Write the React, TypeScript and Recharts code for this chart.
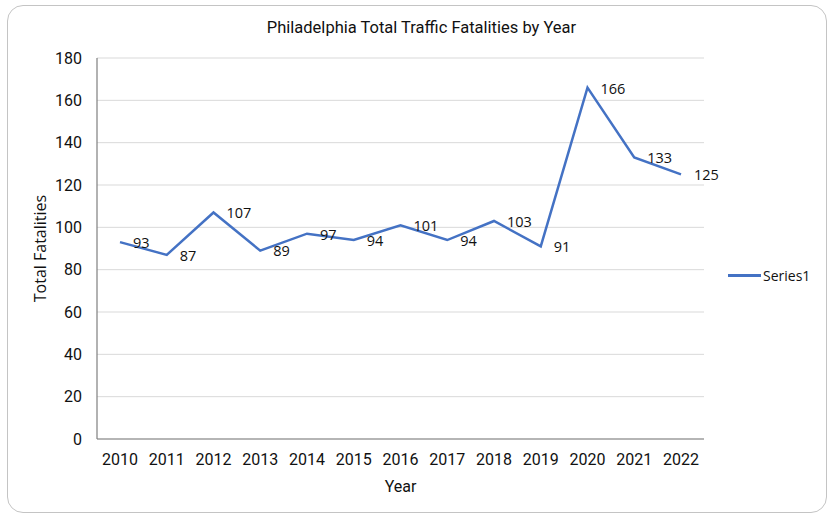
import React from "react";
import {
  LineChart,
  Line,
  XAxis,
  YAxis,
  CartesianGrid,
  Legend,
  LabelList,
} from "recharts";

const years = [
  "2010", "2011", "2012", "2013", "2014", "2015", "2016",
  "2017", "2018", "2019", "2020", "2021", "2022",
];
const fatalities = [93, 87, 107, 89, 97, 94, 101, 94, 103, 91, 166, 133, 125];
const yTicks = [0, 20, 40, 60, 80, 100, 120, 140, 160, 180];

const data = years.map((year, i) => ({ year, Series1: fatalities[i] }));

const BLUE = "#4472C4";

const PointLabel = (props: any) => {
  const { x, y, value } = props;
  return (
    <text
      x={x + 13}
      y={y + 2}
      fontSize={14.5}
      fontFamily="'Open Sans', sans-serif"
      fill="#111"
      dominantBaseline="middle"
      textAnchor="start"
    >
      {value}
    </text>
  );
};

const LegendBox = () => (
  <div
    style={{
      width: 119,
      boxSizing: "border-box",
      paddingLeft: 24,
      display: "flex",
      alignItems: "center",
      fontFamily: "'Open Sans', sans-serif",
      fontSize: 14,
      color: "#111",
    }}
  >
    <span
      style={{
        display: "inline-block",
        width: 33,
        height: 3,
        background: BLUE,
        marginRight: 2,
      }}
    />
    Series1
  </div>
);

export default function App() {
  return (
    <div
      style={{
        position: "absolute",
        left: 0,
        top: 0,
        width: 833,
        height: 514,
        background: "#fff",
      }}
    >
      <div
        style={{
          position: "absolute",
          left: 7,
          top: 5,
          width: 818,
          height: 506,
          border: "1px solid #c4c4c4",
          borderRadius: 16,
        }}
      />
      <div
        style={{
          position: "absolute",
          left: 5,
          top: 18,
          width: 833,
          textAlign: "center",
          fontFamily: "Roboto, sans-serif",
          fontSize: 16.5,
          color: "#111",
        }}
      >
        Philadelphia Total Traffic Fatalities by Year
      </div>
      <LineChart
        width={833}
        height={514}
        data={data}
        margin={{ top: 58, right: 10, bottom: 0, left: 0 }}
        style={{ position: "absolute", left: 0, top: 0 }}
      >
        <CartesianGrid vertical={false} stroke="#d9d9d9" strokeWidth={1} />
        <XAxis
          dataKey="year"
          height={75}
          padding={{ left: 23, right: 23 }}
          axisLine={{ stroke: "#7f7f7f", strokeWidth: 1.2 }}
          tickLine={false}
          tickMargin={9}
          tick={{ fill: "#111", fontSize: 16, fontFamily: "Roboto, sans-serif" }}
          interval={0}
          label={{
            value: "Year",
            position: "insideBottom",
            offset: 22,
            fill: "#111",
            fontSize: 16,
            fontFamily: "Roboto, sans-serif",
          }}
        />
        <YAxis
          width={97}
          domain={[0, 180]}
          ticks={yTicks}
          axisLine={{ stroke: "#7f7f7f", strokeWidth: 1.2 }}
          tickLine={false}
          tickMargin={9}
          tick={{ fill: "#111", fontSize: 16, fontFamily: "Roboto, sans-serif" }}
          label={{
            value: "Total Fatalities",
            angle: -90,
            position: "center",
            dx: -8,
            fill: "#111",
            fontSize: 16,
            fontFamily: "'Open Sans', sans-serif",
          }}
        />
        <Legend
          layout="vertical"
          align="right"
          verticalAlign="middle"
          content={<LegendBox />}
          wrapperStyle={{ top: 266 }}
        />
        <Line
          type="linear"
          dataKey="Series1"
          stroke={BLUE}
          strokeWidth={2.5}
          dot={false}
          isAnimationActive={false}
        >
          <LabelList dataKey="Series1" content={<PointLabel />} />
        </Line>
      </LineChart>
    </div>
  );
}
